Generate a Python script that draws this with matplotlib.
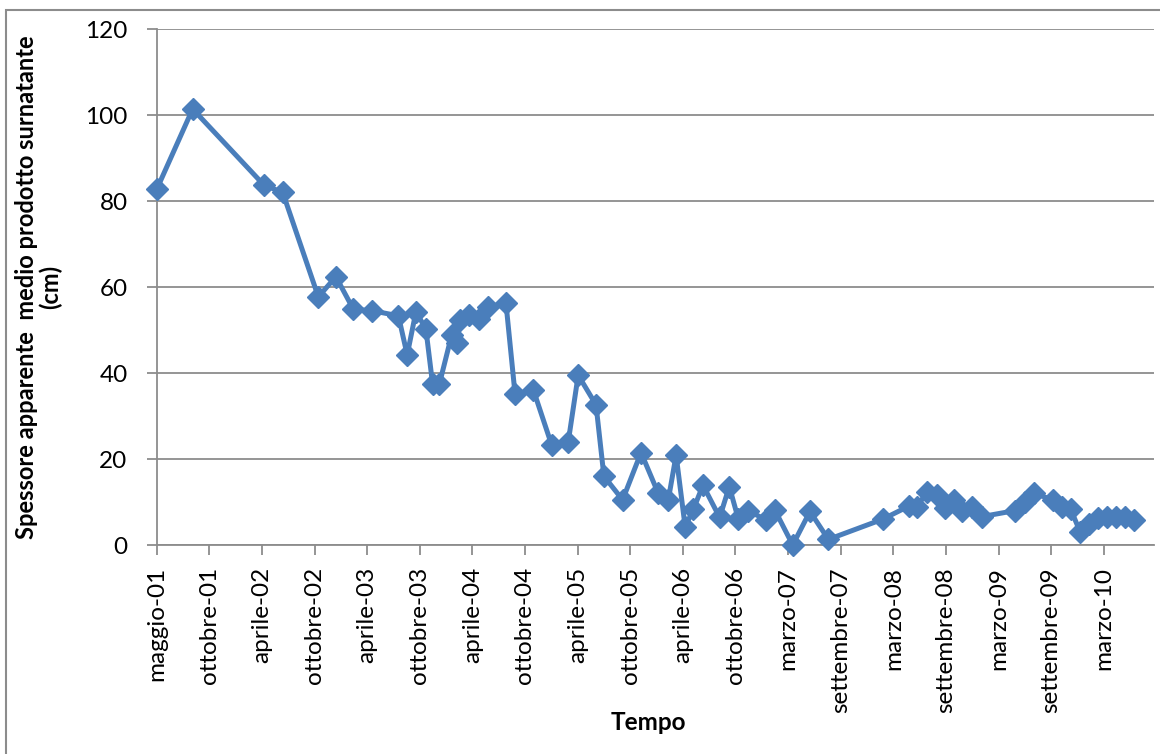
import matplotlib.pyplot as plt
from matplotlib.patches import Rectangle

# days since 1 May 2001
days = [0, 123, 367, 431, 553, 613, 673, 736, 827, 857, 887, 921, 944, 967,
        1009, 1028, 1038, 1070, 1104, 1135, 1195, 1226, 1289, 1351, 1408,
        1442, 1503, 1530, 1594, 1657, 1716, 1750, 1777, 1808, 1836, 1869,
        1926, 1959, 1990, 2024, 2085, 2115, 2176, 2235, 2298, 2484, 2575,
        2602, 2634, 2669, 2697, 2728, 2754, 2788, 2823, 2937, 2971, 3002,
        3066, 3096, 3127, 3159, 3191, 3222, 3252, 3282, 3313, 3344]
spessore = [82.7, 101.4, 83.7, 82.0, 57.7, 62.4, 54.8, 54.5, 53.3, 44.2, 54.3,
            50.2, 37.4, 37.4, 48.8, 46.9, 52.3, 53.5, 52.5, 55.4, 56.2, 35.1,
            36.0, 23.3, 24.0, 39.5, 32.6, 16.0, 10.5, 21.5, 12.0, 10.4, 20.9,
            4.2, 8.3, 13.9, 6.4, 13.6, 6.0, 8.0, 5.8, 8.1, 0.0, 7.8, 1.3, 6.0,
            9.1, 8.8, 12.4, 11.6, 8.5, 10.5, 7.8, 8.8, 6.6, 8.0, 10.1, 12.0,
            10.5, 8.9, 8.3, 3.1, 4.9, 6.2, 6.4, 6.6, 6.4, 5.7]

tick_labels = ['maggio-01', 'ottobre-01', 'aprile-02', 'ottobre-02', 'aprile-03',
               'ottobre-03', 'aprile-04', 'ottobre-04', 'aprile-05', 'ottobre-05',
               'aprile-06', 'ottobre-06', 'marzo-07', 'settembre-07', 'marzo-08',
               'settembre-08', 'marzo-09', 'settembre-09', 'marzo-10']
tick_step = 180  # major unit in days

plt.rcParams['font.family'] = ['Lato', 'DejaVu Sans']

fig = plt.figure(figsize=(11.6, 7.54), dpi=100)
# outer chart frame
fig.patches.append(Rectangle((6 / 1160, -0.01), 1.05, 1 - 10 / 754 + 0.01,
                             transform=fig.transFigure, fill=False,
                             edgecolor='#8c8c8c', linewidth=1.5))

ax = fig.add_axes([156.7 / 1160, 1 - 545 / 754, (1154 - 156.7) / 1160, (545 - 29) / 754])

blue = '#4A7EBB'
ax.plot(days, spessore, color=blue, linewidth=3.6, marker='D', markersize=11,
        markerfacecolor=blue, markeredgecolor=blue, clip_on=False, zorder=3)

ax.set_xlim(0, 3412)
ax.set_ylim(0, 120)
ax.set_yticks(range(0, 121, 20))
ax.set_xticks([i * tick_step for i in range(len(tick_labels))])
ax.set_xticklabels(tick_labels, rotation=90)

ax.grid(axis='y', color='#8c8c8c', linewidth=1.3)
ax.set_axisbelow(True)
for side in ['top', 'right']:
    ax.spines[side].set_visible(False)
for side in ['left', 'bottom']:
    ax.spines[side].set_color('#8c8c8c')
    ax.spines[side].set_linewidth(1.3)
ax.tick_params(axis='both', direction='out', length=7, width=1.3, color='#8c8c8c',
               labelsize=17.5, labelcolor='black')
ax.tick_params(axis='x', pad=9)
ax.tick_params(axis='y', pad=14)

ax.set_ylabel('Spessore apparente  medio prodotto surnatante\n(cm)',
              fontsize=17, fontweight='bold', linespacing=1.0)
ax.yaxis.set_label_coords(-0.095, 0.5)
fig.text(648 / 1160, 1 - 723 / 754, 'Tempo', fontsize=17.5, fontweight='bold',
         ha='center', va='center')

fig.savefig('out.png', dpi=100)
